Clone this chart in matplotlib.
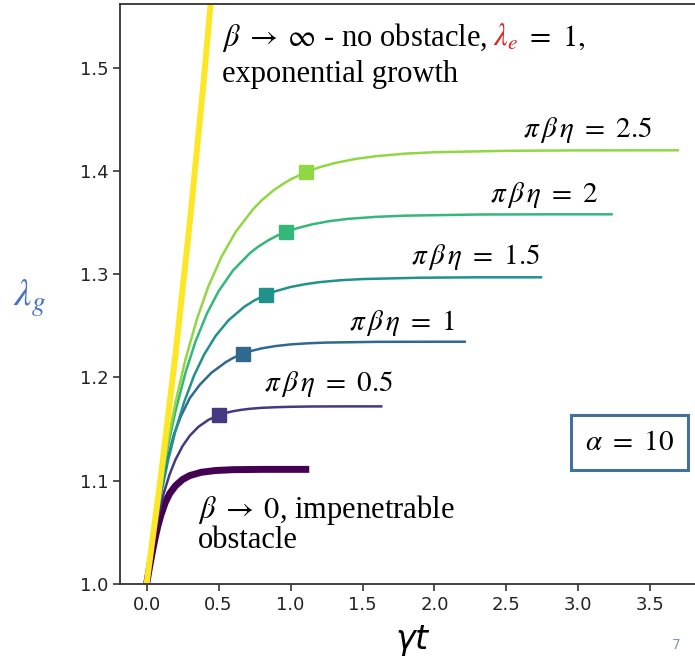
import matplotlib
matplotlib.use('Agg')
import matplotlib.pyplot as plt
from matplotlib.patches import Rectangle
from matplotlib import transforms
import numpy as np

# ---------------------------------------------------------------------------
# Data
# ---------------------------------------------------------------------------

# beta -> infinity: exponential growth
exp_t = [0.0, 0.1, 0.2, 0.3, 0.4, 0.5]
exp_lam = [1.0, 1.1052, 1.2214, 1.3499, 1.4918, 1.6487]

# beta -> 0: impenetrable obstacle
b0_t = [0.0, 0.02, 0.04, 0.06, 0.08, 0.10, 0.13, 0.16, 0.20, 0.25, 0.30,
        0.38, 0.48, 0.60, 0.80, 1.0, 1.13]
b0_lam = [1.0, 1.016, 1.031, 1.045, 1.057, 1.067, 1.079, 1.0875, 1.095,
          1.1012, 1.105, 1.1082, 1.1099, 1.1107, 1.111, 1.111, 1.111]

# pi*beta*eta = 0.5
p05_t = [0.0, 0.03, 0.06, 0.09, 0.12, 0.16, 0.20, 0.25, 0.30, 0.36, 0.43,
         0.50, 0.55, 0.60, 0.66, 0.72, 0.80, 0.90, 1.0, 1.15, 1.40, 1.63]
p05_lam = [1.0, 1.0283, 1.052, 1.0718, 1.0883, 1.1061, 1.1202, 1.1336,
           1.1436, 1.1522, 1.159, 1.1634, 1.1657, 1.1673, 1.1687, 1.1697,
           1.1706, 1.1712, 1.1716, 1.1719, 1.172, 1.172]

# pi*beta*eta = 1
p10_t = [0.0, 0.03, 0.06, 0.10, 0.14, 0.19, 0.24, 0.30, 0.37, 0.45, 0.55,
         0.60, 0.67, 0.73, 0.80, 0.90, 1.0, 1.12, 1.25, 1.6, 2.0, 2.21]
p10_lam = [1.0, 1.029, 1.057, 1.09, 1.118, 1.145, 1.163, 1.18, 1.193,
           1.2045, 1.2148, 1.2188, 1.2231, 1.2258, 1.2282, 1.2305, 1.232,
           1.2331, 1.2338, 1.2345, 1.2346, 1.2346]

# pi*beta*eta = 1.5
p15_t = [0.0, 0.03, 0.06, 0.10, 0.15, 0.20, 0.26, 0.33, 0.40, 0.48, 0.57,
         0.68, 0.75, 0.83, 0.90, 1.0, 1.1, 1.2, 1.35, 1.5, 1.9, 2.3, 2.74]
p15_lam = [1.0, 1.0292, 1.0555, 1.0867, 1.12, 1.148, 1.1759, 1.2019, 1.2223,
           1.2403, 1.2555, 1.2686, 1.2747, 1.2801, 1.2837, 1.2876, 1.2903,
           1.2923, 1.2942, 1.2953, 1.2966, 1.297, 1.297]

# pi*beta*eta = 2
p20_t = [0.0, 0.03, 0.06, 0.10, 0.15, 0.20, 0.27, 0.34, 0.42, 0.50, 0.60,
         0.72, 0.78, 0.85, 0.91, 0.97, 1.05, 1.15, 1.27, 1.4, 1.6, 1.8, 2.3,
         2.8, 3.23]
p20_lam = [1.0, 1.030, 1.060, 1.0965, 1.1345, 1.1669, 1.2046, 1.2349, 1.2622,
           1.2835, 1.3036, 1.3207, 1.3271, 1.3332, 1.3375, 1.341, 1.3447,
           1.3483, 1.3514, 1.3536, 1.3556, 1.3567, 1.3578, 1.358, 1.358]

# pi*beta*eta = 2.5
p25_t = [0.0, 0.03, 0.06, 0.10, 0.15, 0.20, 0.27, 0.35, 0.43, 0.52, 0.62,
         0.74, 0.80, 0.88, 0.94, 1.0, 1.11, 1.2, 1.3, 1.45, 1.6, 1.8, 2.0,
         2.5, 3.0, 3.69]
p25_lam = [1.0, 1.030, 1.061, 1.0994, 1.1399, 1.1753, 1.2174, 1.2567, 1.2885,
           1.3168, 1.3413, 1.363, 1.3716, 1.381, 1.3868, 1.3918, 1.399,
           1.4035, 1.4074, 1.4116, 1.4144, 1.4168, 1.4181, 1.4195, 1.4199,
           1.42]

# square markers
mark_t = [0.50, 0.67, 0.83, 0.97, 1.11]
mark_lam = [1.1634, 1.2231, 1.2801, 1.341, 1.399]
labels = [r'$\pi\,\beta\,\eta\ =\ 0.5$', r'$\pi\,\beta\,\eta\ =\ 1$',
          r'$\pi\,\beta\,\eta\ =\ 1.5$', r'$\pi\,\beta\,\eta\ =\ 2$',
          r'$\pi\,\beta\,\eta\ =\ 2.5$']

plt.rcParams['mathtext.fontset'] = 'stix'

fig = plt.figure(figsize=(6.95, 6.61), dpi=100)
ax = fig.add_axes([0.1727, 0.1165, 0.8407, 0.8775])

cols = plt.cm.viridis(np.linspace(0, 1, 7))

ax.plot(b0_t, b0_lam, color=cols[0], lw=5, solid_capstyle='butt')
curves = [(p05_t, p05_lam), (p10_t, p10_lam), (p15_t, p15_lam),
          (p20_t, p20_lam), (p25_t, p25_lam)]
for i, (t, lam) in enumerate(curves):
    ax.plot(t, lam, color=cols[i + 1], lw=1.8)
    ax.plot(mark_t[i], mark_lam[i], 's', color=cols[i + 1], ms=9.5)
ax.plot(exp_t, exp_lam, color=cols[6], lw=4.3)

ax.set_xlim(-0.1845, 3.8745)
ax.set_ylim(1.0, 1.5617)
ax.set_xticks([0.0, 0.5, 1.0, 1.5, 2.0, 2.5, 3.0, 3.5])
ax.set_yticks([1.0, 1.1, 1.2, 1.3, 1.4, 1.5])
ax.tick_params(labelsize=13, colors='#222222', width=1.1, length=5)
for s in ax.spines.values():
    s.set_color('#333333')
    s.set_linewidth(1.3)

# ── annotations ──────────────────────────────────────────────────────────────
serif = 'Liberation Serif'
renderer = fig.canvas.get_renderer()

# first line is built piece by piece so the red lambda_e follows the text
# (third item = gap in pixels after the piece)
parts = [(r'$\beta\;\rightarrow\;\infty$ - no obstacle,', 'black', 6),
         (r'$\lambda_e$', '#e02020', 0),
         (r'$\ =\ 1,$', 'black', 0)]
tr = ax.transData
for s, c, gap in parts:
    txt = ax.text(0.524, 1.5208, s, color=c, fontsize=22, family=serif,
                  va='baseline', transform=tr)
    txt.draw(renderer)
    ext = txt.get_window_extent(renderer)
    tr = transforms.offset_copy(txt.get_transform(), fig=fig,
                                x=ext.width + gap, units='dots')
ax.text(0.524, 1.486, 'exponential growth', fontsize=22, family=serif,
        va='baseline')

lab_pos = [(0.814, 1.1936), (1.407, 1.2527), (1.834, 1.3166),
           (2.386, 1.3766), (2.614, 1.4395)]
for (x, y), s in zip(lab_pos, labels):
    ax.text(x, y, s, fontsize=21, va='center')

ax.text(0.359, 1.0716, r'$\beta\;\rightarrow\;0$, impenetrable', fontsize=22,
        family=serif, va='center')
ax.text(0.359, 1.0426, 'obstacle', fontsize=22, family=serif, va='center')

ax.add_patch(Rectangle((2.945, 1.1104), 0.814, 0.0532, fill=False,
                       edgecolor='#41719c', lw=2.2, zorder=5))
ax.text(3.352, 1.1375, r'$\alpha\ =\ 10$', fontsize=21, ha='center',
        va='center')

fig.text(30 / 695, 1 - 298 / 661, r'$\lambda_g$', color='#4472c4',
         fontsize=28, ha='center', va='center')
fig.text(413 / 695, 1 - 640 / 661, r'$\gamma t$', fontsize=24, ha='center',
         va='center', math_fontfamily='dejavusans')
fig.text(676 / 695, 1 - 645 / 661, '7', color='#8497b0', fontsize=10,
         ha='center', va='center')

fig.savefig('out.png', dpi=100)
